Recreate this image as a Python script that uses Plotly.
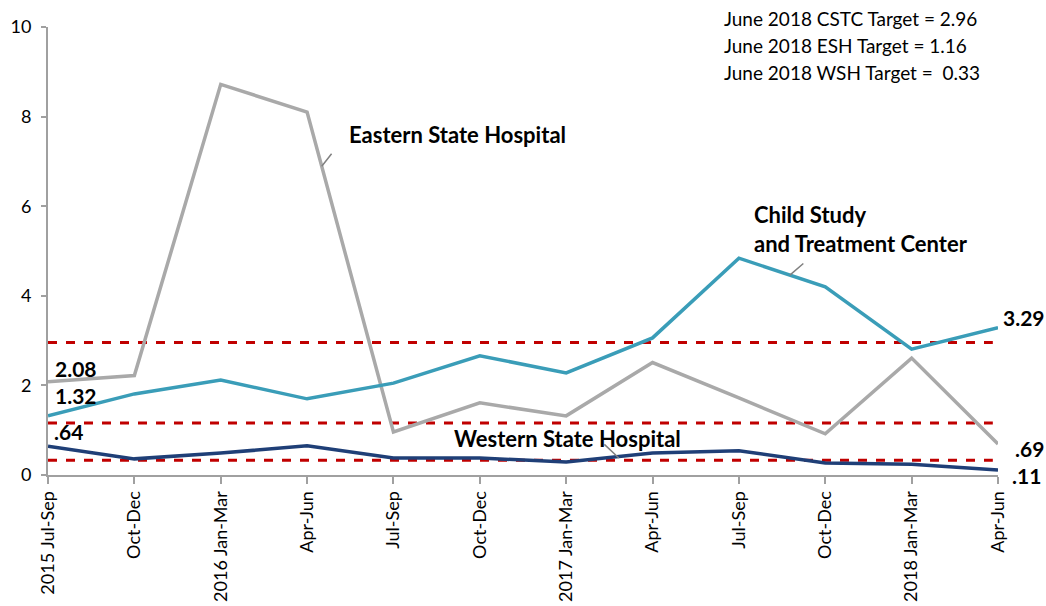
import plotly.graph_objects as go

quarters = ["2015 Jul-Sep", "Oct-Dec", "2016 Jan-Mar", "Apr-Jun", "Jul-Sep", "Oct-Dec",
            "2017 Jan-Mar", "Apr-Jun", "Jul-Sep", "Oct-Dec", "2018 Jan-Mar", "Apr-Jun"]
esh = [2.08, 2.22, 8.72, 8.10, 0.96, 1.61, 1.32, 2.51, 1.72, 0.92, 2.61, 0.69]
cstc = [1.32, 1.81, 2.12, 1.70, 2.05, 2.66, 2.28, 3.06, 4.84, 4.20, 2.81, 3.29]
wsh = [0.64, 0.36, 0.49, 0.65, 0.38, 0.38, 0.29, 0.49, 0.54, 0.27, 0.24, 0.11]
targets = [2.96, 1.16, 0.33]
target_text = ["June 2018 CSTC Target = 2.96", "June 2018 ESH Target = 1.16",
               "June 2018 WSH Target =  0.33"]

xi = list(range(len(quarters)))
fig = go.Figure()

for t in targets:
    fig.add_trace(go.Scatter(x=[xi[0], xi[-1] - 0.06], y=[t, t], mode="lines",
                             line=dict(color="#C00000", width=3, dash="dash"),
                             hoverinfo="skip", showlegend=False))

fig.add_trace(go.Scatter(x=xi, y=esh, mode="lines", line=dict(color="#A9A9A9", width=3.5),
                         showlegend=False))
fig.add_trace(go.Scatter(x=xi, y=cstc, mode="lines", line=dict(color="#3A9DB8", width=3.5),
                         showlegend=False))
fig.add_trace(go.Scatter(x=xi, y=wsh, mode="lines", line=dict(color="#1F3F77", width=3.5),
                         showlegend=False))

FONT = "Lato, Open Sans, sans-serif"
lab_font = dict(family=FONT, size=21, color="black")
ser_font = dict(family=FONT, size=22, color="black")
anns = []
# data labels
anns.append(dict(x=xi[0], y=esh[0], text="<b>2.08</b>", xanchor="left", yanchor="bottom",
                 xshift=5, yshift=-1, showarrow=False, font=lab_font))
anns.append(dict(x=xi[0], y=cstc[0], text="<b>1.32</b>", xanchor="left", yanchor="bottom",
                 xshift=5, yshift=6, showarrow=False, font=lab_font))
anns.append(dict(x=xi[0], y=wsh[0], text="<b>.64</b>", xanchor="left", yanchor="bottom",
                 xshift=4, yshift=0, showarrow=False, font=lab_font))
anns.append(dict(x=xi[-1], y=cstc[-1], text="<b>3.29</b>", xanchor="left", yanchor="middle",
                 xshift=3, yshift=10, showarrow=False, font=lab_font))
anns.append(dict(x=xi[-1], y=esh[-1], text="<b>.69</b>", xanchor="left", yanchor="middle",
                 xshift=15, yshift=-4, showarrow=False, font=lab_font))
anns.append(dict(x=xi[-1], y=wsh[-1], text="<b>.11</b>", xanchor="left", yanchor="middle",
                 xshift=12, yshift=-5, showarrow=False, font=lab_font))

# series labels
anns.append(dict(x=3.46, y=7.59, text="<b>Eastern State Hospital</b>", xanchor="left",
                 yanchor="middle", showarrow=False, font=ser_font))
anns.append(dict(x=3.17, y=6.89, ax=11, ay=-14, text="", showarrow=True, arrowhead=0,
                 arrowwidth=1.5, arrowcolor="#808080"))
anns.append(dict(x=8.15, y=5.49, text="<b>Child Study<br>and Treatment Center</b>",
                 xanchor="left", yanchor="middle", align="left", showarrow=False,
                 font=ser_font))
anns.append(dict(x=8.59, y=4.46, ax=15, ay=-13, text="", showarrow=True, arrowhead=0,
                 arrowwidth=1.5, arrowcolor="#808080"))
anns.append(dict(x=4.68, y=0.82, text="<b>Western State Hospital</b>", xanchor="left",
                 yanchor="middle", showarrow=False, font=ser_font))
anns.append(dict(x=6.61, y=0.38, ax=-16, ay=-15, text="", showarrow=True, arrowhead=0,
                 arrowwidth=1.5, arrowcolor="#808080"))

# targets text
for i, t in enumerate(target_text):
    anns.append(dict(xref="paper", yref="paper", x=0.709, y=1.0, yshift=9 - 27 * i,
                     text=t, xanchor="left", yanchor="middle", showarrow=False,
                     font=dict(family=FONT, size=19, color="black")))

fig.update_layout(
    width=1046, height=606,
    margin=dict(l=48, r=48, t=27, b=131),
    paper_bgcolor="white", plot_bgcolor="white",
    annotations=anns,
    xaxis=dict(range=[0, 11], tickmode="array", tickvals=xi, ticktext=quarters,
               tickangle=-90, showgrid=False, zeroline=False, showline=True,
               automargin=False,
               linecolor="#A0A0A0", linewidth=2, ticks="outside", ticklen=7,
               tickcolor="#A0A0A0", tickwidth=2,
               tickfont=dict(family=FONT, size=18, color="black")),
    yaxis=dict(range=[0, 10], tickvals=[0, 2, 4, 6, 8, 10], showgrid=False,
               zeroline=False, showline=True, linecolor="#A0A0A0", linewidth=2,
               automargin=False, ticklabelstandoff=6,
               ticks="outside", ticklen=5, tickcolor="#A0A0A0", tickwidth=2,
               tickfont=dict(family=FONT, size=18, color="black")),
)

fig.write_html("out.html")
